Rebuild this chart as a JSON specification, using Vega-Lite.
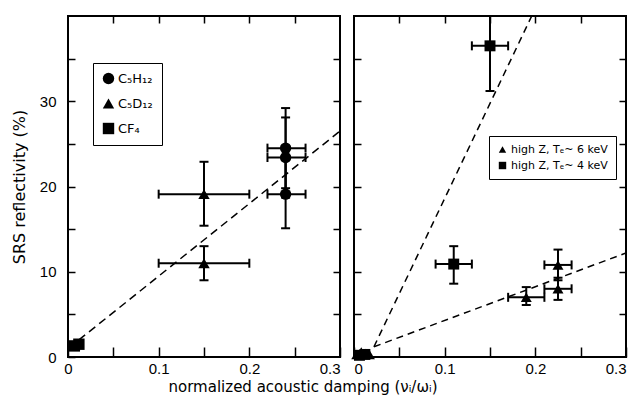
{
  "$schema": "https://vega.github.io/schema/vega-lite/v6.json",
  "background": "white",
  "padding": {"left": 10, "top": 14, "right": 5, "bottom": 5},
  "spacing": 14,
  "bounds": "flush",
  "title": {"text": "normalized acoustic damping (νᵢ/ωᵢ)", "orient": "bottom", "anchor": "middle", "fontSize": 15, "font": "DejaVu Sans", "fontWeight": "normal", "color": "black", "offset": 3, "dx": -16},
  "datasets": {
    "left": [
      {"series": "C₅H₁₂", "x": 0.24, "y": 24.5, "xlo": 0.22, "xhi": 0.262, "ylo": 19.8, "yhi": 29.2},
      {"series": "C₅H₁₂", "x": 0.24, "y": 23.4, "xlo": 0.22, "xhi": 0.262, "ylo": 18.7, "yhi": 28.1},
      {"series": "C₅H₁₂", "x": 0.24, "y": 19.1, "xlo": 0.22, "xhi": 0.262, "ylo": 15.1, "yhi": 23.1},
      {"series": "C₅D₁₂", "x": 0.15, "y": 19.1, "xlo": 0.1, "xhi": 0.2, "ylo": 15.4, "yhi": 22.9},
      {"series": "C₅D₁₂", "x": 0.15, "y": 11.0, "xlo": 0.1, "xhi": 0.2, "ylo": 9.0, "yhi": 13.0},
      {"series": "CF₄", "x": 0.007, "y": 1.3, "xlo": null, "xhi": null, "ylo": null, "yhi": null},
      {"series": "CF₄", "x": 0.012, "y": 1.5, "xlo": null, "xhi": null, "ylo": null, "yhi": null}
    ],
    "right": [
      {"series": "high Z, Tₑ~ 6 keV", "x": 0.19, "y": 7.0, "xlo": 0.17, "xhi": 0.21, "ylo": 6.1, "yhi": 8.2},
      {"series": "high Z, Tₑ~ 6 keV", "x": 0.225, "y": 10.8, "xlo": 0.21, "xhi": 0.24, "ylo": 9.0, "yhi": 12.6},
      {"series": "high Z, Tₑ~ 6 keV", "x": 0.225, "y": 8.0, "xlo": 0.21, "xhi": 0.24, "ylo": 6.7, "yhi": 9.3},
      {"series": "high Z, Tₑ~ 6 keV", "x": 0.003, "y": 0.3, "xlo": null, "xhi": null, "ylo": null, "yhi": null},
      {"series": "high Z, Tₑ~ 6 keV", "x": 0.008, "y": 0.6, "xlo": null, "xhi": null, "ylo": null, "yhi": null},
      {"series": "high Z, Tₑ~ 6 keV", "x": 0.013, "y": 0.4, "xlo": null, "xhi": null, "ylo": null, "yhi": null},
      {"series": "high Z, Tₑ~ 6 keV", "x": 0.017, "y": 0.3, "xlo": null, "xhi": null, "ylo": null, "yhi": null},
      {"series": "high Z, Tₑ~ 4 keV", "x": 0.15, "y": 36.5, "xlo": 0.13, "xhi": 0.17, "ylo": 31.2, "yhi": 42},
      {"series": "high Z, Tₑ~ 4 keV", "x": 0.11, "y": 10.9, "xlo": 0.09, "xhi": 0.13, "ylo": 8.6, "yhi": 13.0},
      {"series": "high Z, Tₑ~ 4 keV", "x": 0.006, "y": 0.2, "xlo": null, "xhi": null, "ylo": null, "yhi": null},
      {"series": "high Z, Tₑ~ 4 keV", "x": 0.012, "y": 0.3, "xlo": null, "xhi": null, "ylo": null, "yhi": null}
    ],
    "linesL": [
      {"line": "a", "x": 0.012, "y": 2.0},
      {"line": "a", "x": 0.3, "y": 26.5}
    ],
    "linesR": [
      {"line": "b", "x": 0.022, "y": 1.2},
      {"line": "b", "x": 0.196, "y": 40},
      {"line": "c", "x": 0.022, "y": 1.2},
      {"line": "c", "x": 0.3, "y": 12.2}
    ]
  },
  "hconcat": [
    {
      "width": 272,
      "height": 341,
      "resolve": {"axis": {"x": "independent", "y": "independent"}},
      "layer": [
        {
          "data": {"name": "linesL"},
          "mark": {"type": "line", "color": "black", "strokeDash": [8, 5], "strokeWidth": 1.5, "clip": true},
          "encoding": {
            "x": {"field": "x", "type": "quantitative", "scale": {"domain": [0, 0.3], "nice": false, "zero": false},
                  "axis": {"orient": "top", "title": null, "labels": false, "tickSize": -7, "values": [0.05, 0.1, 0.15, 0.2, 0.25]}},
            "y": {"field": "y", "type": "quantitative", "scale": {"domain": [0, 40], "nice": false},
                  "axis": {"orient": "right", "title": null, "labels": false, "tickSize": -7, "values": [5, 10, 15, 20, 25, 30, 35]}},
            "detail": {"field": "line"}
          }
        },
        {
          "data": {"name": "left"},
          "transform": [{"filter": "datum.ylo != null"}],
          "mark": {"type": "rule", "color": "black", "strokeWidth": 2},
          "encoding": {
            "x": {"field": "x", "type": "quantitative", "axis": null},
            "y": {"field": "ylo", "type": "quantitative", "axis": null},
            "y2": {"field": "yhi"}
          }
        },
        {
          "data": {"name": "left"},
          "transform": [{"filter": "datum.ylo != null"}],
          "mark": {"type": "tick", "orient": "horizontal", "color": "black", "size": 9, "thickness": 2, "opacity": 1},
          "encoding": {
            "x": {"field": "x", "type": "quantitative", "axis": null},
            "y": {"field": "ylo", "type": "quantitative", "axis": null}
          }
        },
        {
          "data": {"name": "left"},
          "transform": [{"filter": "datum.ylo != null"}],
          "mark": {"type": "tick", "orient": "horizontal", "color": "black", "size": 9, "thickness": 2, "opacity": 1},
          "encoding": {
            "x": {"field": "x", "type": "quantitative", "axis": null},
            "y": {"field": "yhi", "type": "quantitative", "axis": null}
          }
        },
        {
          "data": {"name": "left"},
          "transform": [{"filter": "datum.xlo != null"}],
          "mark": {"type": "rule", "color": "black", "strokeWidth": 2},
          "encoding": {
            "x": {"field": "xlo", "type": "quantitative", "axis": null},
            "x2": {"field": "xhi"},
            "y": {"field": "y", "type": "quantitative", "axis": null}
          }
        },
        {
          "data": {"name": "left"},
          "transform": [{"filter": "datum.xlo != null"}],
          "mark": {"type": "tick", "orient": "vertical", "color": "black", "size": 9, "thickness": 2, "opacity": 1},
          "encoding": {
            "x": {"field": "xlo", "type": "quantitative", "axis": null},
            "y": {"field": "y", "type": "quantitative", "axis": null}
          }
        },
        {
          "data": {"name": "left"},
          "transform": [{"filter": "datum.xlo != null"}],
          "mark": {"type": "tick", "orient": "vertical", "color": "black", "size": 9, "thickness": 2, "opacity": 1},
          "encoding": {
            "x": {"field": "xhi", "type": "quantitative", "axis": null},
            "y": {"field": "y", "type": "quantitative", "axis": null}
          }
        },
        {
          "data": {"name": "left"},
          "mark": {"type": "point", "filled": true, "opacity": 1, "color": "black", "size": 130, "strokeWidth": 0},
          "encoding": {
            "x": {"field": "x", "type": "quantitative",
                  "axis": {"orient": "bottom", "title": null, "tickSize": -10, "labelPadding": 14, "labelFlush": false, "labelOverlap": false,
                           "values": [0, 0.05, 0.1, 0.15, 0.2, 0.25, 0.3],
                           "labelAlign": {"condition": {"test": "datum.value > 0.29", "value": "right"}, "value": "center"},
                           "labelExpr": "datum.value == 0 ? '0' : (abs(datum.value*10 - round(datum.value*10)) < 0.001 ? format(datum.value, '.1f') : '')"}},
            "y": {"field": "y", "type": "quantitative",
                  "axis": {"orient": "left", "title": "SRS reflectivity (%)", "tickSize": -7, "labelPadding": 19, "labelFlush": false, "labelOverlap": false,
                           "values": [0, 5, 10, 15, 20, 25, 30, 35], "format": "d", "titleFontSize": 16,
                           "labelExpr": "datum.value % 10 == 0 ? datum.label : ''", "titlePadding": 12}},
            "shape": {"field": "series", "type": "nominal",
                      "scale": {"domain": ["C₅H₁₂", "C₅D₁₂", "CF₄"], "range": ["circle", "triangle-up", "square"]},
                      "legend": {"title": null, "orient": "none", "legendX": 25, "legendY": 47, "strokeColor": "black", "fillColor": "white",
                                 "padding": 9, "rowPadding": 11, "symbolSize": 130, "labelFontSize": 13, "labelFont": "DejaVu Sans", "labelColor": "black",
                                 "symbolFillColor": "black", "symbolStrokeColor": "black", "symbolStrokeWidth": 0, "labelOffset": 3}}
          }
        }
      ]
    },
    {
      "width": 272,
      "height": 341,
      "resolve": {"axis": {"x": "independent", "y": "independent"}},
      "layer": [
        {
          "data": {"name": "linesR"},
          "mark": {"type": "line", "color": "black", "strokeDash": [7, 5], "strokeWidth": 1.5, "clip": true},
          "encoding": {
            "x": {"field": "x", "type": "quantitative", "scale": {"domain": [0, 0.3], "nice": false, "zero": false},
                  "axis": {"orient": "top", "title": null, "labels": false, "tickSize": -7, "values": [0.05, 0.1, 0.15, 0.2, 0.25]}},
            "y": {"field": "y", "type": "quantitative", "scale": {"domain": [0, 40], "nice": false},
                  "axis": {"orient": "right", "title": null, "labels": false, "tickSize": -7, "values": [5, 10, 15, 20, 25, 30, 35]}},
            "detail": {"field": "line"}
          }
        },
        {
          "data": {"name": "right"},
          "transform": [{"filter": "datum.ylo != null"}],
          "mark": {"type": "rule", "color": "black", "strokeWidth": 2, "clip": true},
          "encoding": {
            "x": {"field": "x", "type": "quantitative", "axis": null},
            "y": {"field": "ylo", "type": "quantitative", "axis": null},
            "y2": {"field": "yhi"}
          }
        },
        {
          "data": {"name": "right"},
          "transform": [{"filter": "datum.ylo != null"}],
          "mark": {"type": "tick", "orient": "horizontal", "color": "black", "size": 9, "thickness": 2, "opacity": 1},
          "encoding": {
            "x": {"field": "x", "type": "quantitative", "axis": null},
            "y": {"field": "ylo", "type": "quantitative", "axis": null}
          }
        },
        {
          "data": {"name": "right"},
          "transform": [{"filter": "datum.ylo != null && datum.yhi < 40"}],
          "mark": {"type": "tick", "orient": "horizontal", "color": "black", "size": 9, "thickness": 2, "opacity": 1},
          "encoding": {
            "x": {"field": "x", "type": "quantitative", "axis": null},
            "y": {"field": "yhi", "type": "quantitative", "axis": null}
          }
        },
        {
          "data": {"name": "right"},
          "transform": [{"filter": "datum.xlo != null"}],
          "mark": {"type": "rule", "color": "black", "strokeWidth": 2},
          "encoding": {
            "x": {"field": "xlo", "type": "quantitative", "axis": null},
            "x2": {"field": "xhi"},
            "y": {"field": "y", "type": "quantitative", "axis": null}
          }
        },
        {
          "data": {"name": "right"},
          "transform": [{"filter": "datum.xlo != null"}],
          "mark": {"type": "tick", "orient": "vertical", "color": "black", "size": 9, "thickness": 2, "opacity": 1},
          "encoding": {
            "x": {"field": "xlo", "type": "quantitative", "axis": null},
            "y": {"field": "y", "type": "quantitative", "axis": null}
          }
        },
        {
          "data": {"name": "right"},
          "transform": [{"filter": "datum.xlo != null"}],
          "mark": {"type": "tick", "orient": "vertical", "color": "black", "size": 9, "thickness": 2, "opacity": 1},
          "encoding": {
            "x": {"field": "xhi", "type": "quantitative", "axis": null},
            "y": {"field": "y", "type": "quantitative", "axis": null}
          }
        },
        {
          "data": {"name": "right"},
          "mark": {"type": "point", "filled": true, "opacity": 1, "color": "black", "size": 120, "strokeWidth": 0},
          "encoding": {
            "x": {"field": "x", "type": "quantitative",
                  "axis": {"orient": "bottom", "title": null, "tickSize": -10, "labelPadding": 14, "labelFlush": false, "labelOverlap": false,
                           "values": [0, 0.05, 0.1, 0.15, 0.2, 0.25, 0.3],
                           "labelAlign": {"condition": [{"test": "datum.value == 0", "value": "left"}, {"test": "datum.value > 0.29", "value": "right"}], "value": "center"},
                           "labelExpr": "datum.value == 0 ? '0' : (abs(datum.value*10 - round(datum.value*10)) < 0.001 ? format(datum.value, '.1f') : '')"}},
            "y": {"field": "y", "type": "quantitative",
                  "axis": {"orient": "left", "title": null, "labels": false, "tickSize": -7,
                           "values": [5, 10, 15, 20, 25, 30, 35]}},
            "shape": {"field": "series", "type": "nominal",
                      "scale": {"domain": ["high Z, Tₑ~ 6 keV", "high Z, Tₑ~ 4 keV"], "range": ["triangle-up", "square"]},
                      "legend": {"title": null, "orient": "none", "legendX": 135, "legendY": 120, "strokeColor": "black", "fillColor": "white",
                                 "padding": 8, "rowPadding": 4, "symbolSize": 55, "labelFontSize": 11, "labelFont": "DejaVu Sans", "labelColor": "black",
                                 "symbolFillColor": "black", "symbolStrokeColor": "black", "symbolStrokeWidth": 0, "labelOffset": 3}}
          }
        }
      ]
    }
  ],
  "resolve": {"scale": {"shape": "independent"}, "legend": {"shape": "independent"}},
  "config": {
    "view": {"stroke": "black", "strokeWidth": 2},
    "axis": {"grid": false, "domain": false, "tickColor": "black", "tickWidth": 1.5, "labelColor": "black", "titleColor": "black", "minExtent": 0,
             "labelFont": "Liberation Sans", "labelFontSize": 15, "titleFont": "DejaVu Sans", "titleFontSize": 15, "titleFontWeight": "normal"},
    "legend": {"labelLimit": 300}
  }
}
